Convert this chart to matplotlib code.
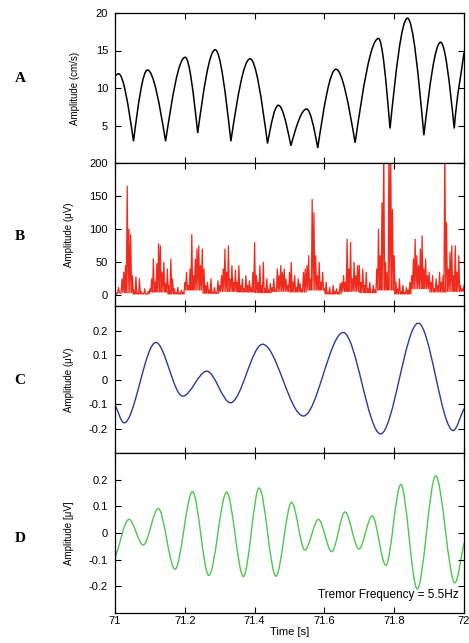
import numpy as np
import matplotlib
matplotlib.use("Agg")
import matplotlib.pyplot as plt
from matplotlib.path import Path
from matplotlib.patches import PathPatch

plt.rcParams['font.family'] = ['Liberation Sans', 'DejaVu Sans']

# A: velocity amplitude, extrema (time s, cm/s)
vel_t = [71.000, 71.010, 71.053, 71.093, 71.145, 71.201, 71.237, 71.287, 71.332,
         71.387, 71.437, 71.468, 71.504, 71.549, 71.581, 71.633, 71.688, 71.755,
         71.788, 71.838, 71.885, 71.933, 71.972, 72.000]
vel_v = [11.6, 11.9, 2.9, 12.4, 2.9, 14.1, 4.0, 15.1, 2.9,
         13.9, 2.6, 7.7, 2.3, 7.2, 2.0, 12.5, 2.7, 16.6,
         4.6, 19.3, 3.7, 16.1, 4.6, 14.7]

# B: EMG spike tops, every 5 ms (uV)
emg_peak = [6, 2, 12, 3, 25, 35, 45, 165, 100, 92,
            30, 8, 28, 4, 25, 6, 3, 10, 2, 6,
            10, 25, 55, 20, 48, 78, 75, 35, 50, 18,
            40, 15, 55, 25, 10, 4, 12, 3, 8, 5,
            20, 35, 15, 40, 92, 30, 55, 70, 75, 45,
            70, 40, 15, 20, 8, 25, 5, 12, 4, 22,
            15, 30, 40, 70, 35, 75, 25, 45, 20, 38,
            20, 45, 15, 25, 10, 30, 15, 22, 12, 35,
            80, 30, 20, 45, 15, 50, 10, 25, 8, 18,
            12, 25, 8, 40, 30, 45, 35, 40, 25, 15,
            35, 50, 20, 30, 12, 25, 18, 10, 35, 40,
            45, 60, 25, 145, 125, 60, 30, 50, 20, 35,
            10, 20, 5, 12, 3, 15, 6, 10, 4, 18,
            20, 30, 20, 85, 40, 80, 25, 50, 30, 45,
            45, 20, 40, 15, 35, 10, 20, 5, 15, 8,
            40, 100, 60, 140, 230, 50, 35, 230, 230, 130,
            60, 20, 10, 25, 6, 15, 4, 12, 8, 20,
            30, 55, 85, 60, 45, 70, 90, 40, 55, 30,
            35, 20, 30, 10, 25, 15, 35, 20, 30, 230,
            110, 40, 65, 75, 30, 75, 35, 60, 15, 10,
            15]
# EMG floor between spikes, one level per 50 ms (uV)
emg_floor = [4, 2, 5, 2, 8, 3, 6, 5, 4, 6,
             5, 8, 2, 6, 4, 8, 2, 10, 5, 6]

# C: filtered signal extrema (uV)
flt_t = [71.000, 71.026, 71.117, 71.194, 71.263, 71.331, 71.423, 71.540,
         71.654, 71.761, 71.869, 71.969, 72.000]
flt_v = [-0.103, -0.177, 0.151, -0.068, 0.034, -0.095, 0.144, -0.149,
         0.192, -0.222, 0.230, -0.208, -0.119]

# D: tremor band extrema (uV)
trm_t = [71.000, 71.040, 71.081, 71.124, 71.172, 71.222, 71.269, 71.320,
         71.368, 71.413, 71.461, 71.506, 71.544, 71.583, 71.621, 71.659,
         71.699, 71.737, 71.776, 71.819, 71.866, 71.919, 71.974, 72.000]
trm_v = [-0.096, 0.051, -0.045, 0.092, -0.136, 0.155, -0.159, 0.153,
         -0.163, 0.169, -0.162, 0.115, -0.064, 0.051, -0.070, 0.079,
         -0.060, 0.064, -0.121, 0.182, -0.210, 0.214, -0.187, -0.038]

x_ticks = [71, 71.2, 71.4, 71.6, 71.8, 72]
x_labels = ['71', '71.2', '71.4', '71.6', '71.8', '72']


def smooth_path(t, v, sharp_min=False):
    """Cubic bezier through the extrema, flat at peaks (and troughs unless sharp_min)."""
    verts = [(t[0], v[0])]
    codes = [Path.MOVETO]
    n = len(t)
    for i in range(n - 1):
        t0, v0, t1, v1 = t[i], v[i], t[i + 1], v[i + 1]
        dt, dv = t1 - t0, v1 - v0
        if i == 0:
            c1 = (t0 + dt / 3, v0 + dv / 3)
        elif sharp_min and dv > 0:
            c1 = (t0 + dt / 3, v0 + 0.52 * dv)
        else:
            c1 = (t0 + dt / 3, v0)
        if i + 1 == n - 1:
            c2 = (t1 - dt / 3, v1 - dv / 3)
        elif sharp_min and dv < 0:
            c2 = (t1 - dt / 3, v1 - 0.52 * dv)
        else:
            c2 = (t1 - dt / 3, v1)
        verts += [c1, c2, (t1, v1)]
        codes += [Path.CURVE4] * 3
    return Path(verts, codes)


# spikes: top, then down to the local floor, then next top
peak_t = np.linspace(71.0, 72.0, len(emg_peak))
emg_t, emg_v = [], []
for i, (tt, vv) in enumerate(zip(peak_t, emg_peak)):
    emg_t.append(tt)
    emg_v.append(vv)
    if i < len(emg_peak) - 1:
        emg_t.append(tt + 0.0025)
        emg_v.append(emg_floor[min(i // 10, len(emg_floor) - 1)])

fig = plt.figure(figsize=(4.69, 6.43), dpi=100)
W, H = 469, 643
left, width = 115 / W, 349 / W
boxes = [(13, 163), (163, 306), (306, 453), (453, 613)]
letter_y = [78, 237, 380, 538]
axes = [fig.add_axes([left, 1 - b / H, width, (b - t) / H]) for t, b in boxes]
axA, axB, axC, axD = axes

axA.add_patch(PathPatch(smooth_path(vel_t, vel_v, sharp_min=True),
                        fill=False, edgecolor='black', lw=1.1))
axA.set_ylim(0, 20)
axA.set_yticks([5, 10, 15, 20])
axA.set_ylabel('Amplitude (cm/s)', fontsize=7)

axB.plot(emg_t, emg_v, color='#f02a1c', lw=0.9)
axB.set_ylim(-16, 200)
axB.set_yticks([0, 50, 100, 150, 200])
axB.set_ylabel('Amplitude (μV)', fontsize=7)

axC.add_patch(PathPatch(smooth_path(flt_t, flt_v), fill=False,
                        edgecolor='#2a3a9a', lw=1.0))
axC.set_ylim(-0.3, 0.3)
axC.set_yticks([-0.2, -0.1, 0, 0.1, 0.2])
axC.set_yticklabels(['-0.2', '-0.1', '0', '0.1', '0.2'])
axC.set_ylabel('Amplitude (μV)', fontsize=7)

axD.add_patch(PathPatch(smooth_path(trm_t, trm_v), fill=False,
                        edgecolor='#4cc84c', lw=1.0))
axD.set_ylim(-0.3, 0.3)
axD.set_yticks([-0.2, -0.1, 0, 0.1, 0.2])
axD.set_yticklabels(['-0.2', '-0.1', '0', '0.1', '0.2'])
axD.set_ylabel('Amplitude [μV]', fontsize=7)
axD.text(0.985, 0.11, 'Tremor Frequency = 5.5Hz', transform=axD.transAxes,
         ha='right', va='center', fontsize=8.5)
axD.set_xlabel('Time [s]', fontsize=8, labelpad=1)

for ax, letter, ly in zip(axes, 'ABCD', letter_y):
    ax.set_xlim(71, 72)
    ax.set_xticks(x_ticks)
    if ax is axD:
        ax.set_xticklabels(x_labels)
    else:
        ax.set_xticklabels([])
    ax.tick_params(direction='in', top=True, right=True, length=4, width=0.8,
                   labelsize=8, pad=5)
    ax.yaxis.labelpad = 11
    for s in ax.spines.values():
        s.set_linewidth(0.9)
    fig.text(20 / W, 1 - ly / H, letter, ha='center', va='center',
             fontsize=11, fontweight='bold', family='Liberation Serif')
axD.tick_params(axis='x', pad=2)

fig.savefig('out.png', dpi=100)
